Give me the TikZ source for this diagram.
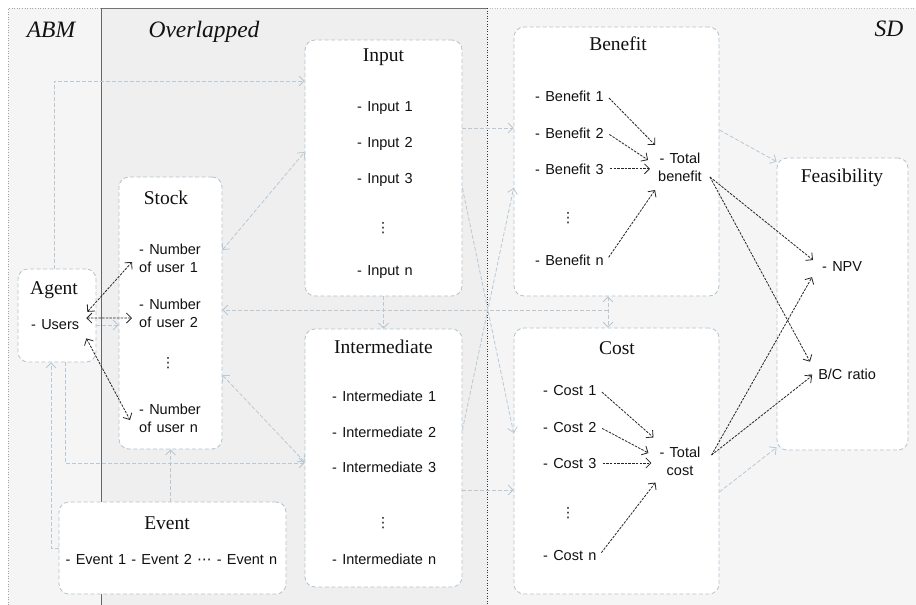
\documentclass[tikz,border=0pt]{standalone}
\usepackage{fontspec}
\setmainfont{Liberation Serif}
\newfontfamily\itemf{Liberation Sans}[WordSpace=1.3]
\newfontfamily\symf{DejaVu Sans}
\usetikzlibrary{arrows.meta,calc}
\definecolor{abmbg}{HTML}{F5F5F5}
\definecolor{ovbg}{HTML}{EFEFEF}
\definecolor{sdbg}{HTML}{F5F5F5}
\definecolor{boxline}{HTML}{B4C3CE}
\definecolor{litec}{HTML}{B9C8D3}
\definecolor{txt}{HTML}{111111}
\begin{document}
\begin{tikzpicture}[x=1pt,y=-1pt,
 box/.style={draw=boxline, line width=0.8pt, dash pattern=on 4pt off 2.5pt, fill=white, rounded corners=10pt, inner sep=0pt},
 ttl/.style={font=\fontsize{19.5}{22}\selectfont, text=txt, inner sep=1pt, anchor=base},
 panel/.style={font=\fontsize{23.5}{26}\selectfont\itshape, text=txt, inner sep=1pt, anchor=base},
 item/.style={font=\itemf\fontsize{14.5}{18}\selectfont, text=txt, inner sep=3pt},
 vd/.style={font=\symf\fontsize{14}{16}\selectfont, text=txt, inner sep=1pt},
 litearr/.style={draw=litec, line width=0.8pt, dash pattern=on 4pt off 2pt, -{Straight Barb[length=5pt,width=10pt]}},
 litebi/.style={litearr, {Straight Barb[length=5pt,width=10pt]}-{Straight Barb[length=5pt,width=10pt]}},
 darr/.style={draw=black!85, line width=0.8pt, dash pattern=on 2.5pt off 1.2pt, -{Straight Barb[length=5pt,width=10pt]}},
 dbi/.style={darr, {Straight Barb[length=5pt,width=10pt]}-{Straight Barb[length=5pt,width=10pt]}}
]
\useasboundingbox (0,0) rectangle (916,605);
% panels
\fill[abmbg] (8,8) rectangle (101,605);
\fill[ovbg] (101,8) rectangle (487,605);
\fill[sdbg] (487,8) rectangle (916,605);
\draw[gray!70, dotted, line width=0.6pt] (8,605) -- (8,8) -- (101,8);
\draw[black!55, line width=0.6pt] (101,8) -- (487,8);
\draw[gray!50, dotted, line width=0.6pt] (487,8) -- (916,8);
\draw[black!60, line width=0.5pt] (101,8) -- (101,605);
\draw[black!80, dotted, line width=0.6pt] (487,8) -- (487,605);
\node[panel] (labA) at (51,37) {ABM};
\node[panel] (labO) at (204,37) {Overlapped};
\node[panel] (labS) at (889,36) {SD};
% boxes
\node[box,minimum width=78pt,minimum height=93pt] (agent) at (57,315.5) {};
\node[box,minimum width=103pt,minimum height=272pt] (stock) at (170.5,313) {};
\node[box,minimum width=227pt,minimum height=92pt] (event) at (172.5,548) {};
\node[box,minimum width=157pt,minimum height=256pt] (input) at (383.5,168) {};
\node[box,minimum width=157pt,minimum height=258pt] (inter) at (383.5,458) {};
\node[box,minimum width=205pt,minimum height=269pt] (benefit) at (616.5,161.5) {};
\node[box,minimum width=205pt,minimum height=266pt] (cost) at (616.5,461) {};
\node[box,minimum width=131pt,minimum height=292pt] (feas) at (842.5,304) {};
% titles
\node[ttl] (agT) at (54,294) {Agent};
\node[ttl] (stT) at (166,204.5) {Stock};
\node[ttl] (evT) at (167,529.5) {Event};
\node[ttl] (inT) at (383.5,61) {Input};
\node[ttl] (imT) at (383.5,353.5) {Intermediate};
\node[ttl] (beT) at (618,50.5) {Benefit};
\node[ttl] (coT) at (617,354.5) {Cost};
\node[ttl] (feT) at (842,182.5) {Feasibility};
% agent / stock items
\node[item,anchor=base west] (agU) at (28,329) {- Users};
\node[item,anchor=west,align=left] (su1) at (136,258) {- Number\\of user 1};
\node[item,anchor=west,align=left] (su2) at (136,313) {- Number\\of user 2};
\node[vd] (sdots) at (168,363) {⋮};
\node[item,anchor=west,align=left] (sun) at (136,418) {- Number\\of user n};
% event items
\node[item,anchor=base] (evI) at (171.5,564) {- Event 1 - Event 2 {\symf ⋯} - Event n};
% input items
\node[item,anchor=base west] (in1) at (354,111) {- Input 1};
\node[item,anchor=base west] (in2) at (354,147) {- Input 2};
\node[item,anchor=base west] (in3) at (354,183) {- Input 3};
\node[vd] (indots) at (383,228) {⋮};
\node[item,anchor=base west] (inn) at (354,275) {- Input n};
% intermediate items
\node[item,anchor=base west] (im1) at (329,401) {- Intermediate 1};
\node[item,anchor=base west] (im2) at (329,437) {- Intermediate 2};
\node[item,anchor=base west] (im3) at (329,472) {- Intermediate 3};
\node[vd] (imdots) at (383,523) {⋮};
\node[item,anchor=base west] (imn) at (329,564) {- Intermediate n};
% benefit items
\node[item,anchor=base west] (b1) at (532,101) {- Benefit 1};
\node[item,anchor=base west] (b2) at (532,138) {- Benefit 2};
\node[item,anchor=base west] (b3) at (532,174) {- Benefit 3};
\node[vd] (bdots) at (568,218) {⋮};
\node[item,anchor=base west] (bn) at (532,265) {- Benefit n};
\node[item,align=center] (btot) at (680,167.5) {- Total\\benefit};
% cost items
\node[item,anchor=base west] (c1) at (540,395) {- Cost 1};
\node[item,anchor=base west] (c2) at (540,432) {- Cost 2};
\node[item,anchor=base west] (c3) at (540,468) {- Cost 3};
\node[vd] (cdots) at (568,513) {⋮};
\node[item,anchor=base west] (cn) at (540,560) {- Cost n};
\node[item,align=center] (ctot) at (680,461) {- Total\\cost};
% feasibility items
\node[item,anchor=base west] (npv) at (819,271) {- NPV};
\node[item,anchor=base west] (bc) at (805,379) {- B/C ratio};
% light connectors
\draw[litearr] ([xshift=-3pt]agent.north) |- ([yshift=87pt]input.west);
\draw[litebi] ([yshift=63pt]stock.east) -- ([yshift=16pt]input.west);
\draw[litebi] ([yshift=-62pt]stock.east) -- ([yshift=-4pt]inter.west);
\draw[litearr] ([yshift=-9.5pt]agent.east) -- ([yshift=-12pt]stock.west);
\draw[litearr] ([xshift=8pt]agent.south) |- ([yshift=-5pt]inter.west);
\draw[litearr] (event.west) -| ([xshift=-6pt]agent.south);
\draw[litearr] (event.north -| stock.south) -- (stock.south);
\draw[litearr] (input.south) -- (inter.north);
\coordinate (hub) at (608,310);
\draw[litebi] ([xshift=-8.5pt]benefit.south) -- ([xshift=-8.5pt]cost.north);
\draw[litearr] (hub) -- ([yshift=3pt]stock.east);
\draw[litearr] ([yshift=40pt]input.east) -- ([yshift=33.5pt]benefit.west);
\draw[litearr] ([yshift=-32pt]inter.east) -- ([yshift=-29pt]cost.west);
\draw[litearr] ([yshift=-20pt]input.east) -- ([yshift=28pt]cost.west);
\draw[litearr] ([yshift=28pt]inter.east) -- ([yshift=-26.5pt]benefit.west);
\draw[litearr] ([yshift=31.5pt]benefit.east) -- ([yshift=-4pt]feas.north west);
\draw[litearr] ([yshift=-31pt]cost.east) -- ([yshift=3pt]feas.south west);
% dark connectors
\draw[dbi] ([xshift=5pt,yshift=4pt]agU.north east) -- ([xshift=-4pt,yshift=-4pt]su1.west);
\draw[dbi] ([xshift=4pt,yshift=6pt]agU.east) -- ([xshift=-4pt,yshift=-5pt]su2.west);
\draw[dbi] ([xshift=4pt,yshift=-6pt]agU.south east) -- ([xshift=-6pt,yshift=-2pt]sun.west);
\draw[darr, shorten <=3pt] (b1.east) -- ([yshift=5pt]btot.north west);
\draw[darr, shorten <=3pt] (b2.east) -- ([xshift=-7pt,yshift=7.5pt]btot.west);
\draw[darr, shorten <=3pt, shorten >=5pt] (b3.east) -- (b3.east -| btot.west);
\draw[darr, shorten <=3pt] (bn.east) -- ([yshift=-5pt]btot.south west);
\draw[darr, shorten <=3pt] (c1.east) -- ([xshift=-3pt,yshift=6pt]ctot.north west);
\draw[darr, shorten <=3pt] (c2.east) -- ([xshift=-8pt,yshift=8pt]ctot.west);
\draw[darr, shorten <=3pt, shorten >=5pt] (c3.east) -- (c3.east -| ctot.west);
\draw[darr, shorten <=3pt] (cn.east) -- ([xshift=-1pt,yshift=-4pt]ctot.south west);
\draw[darr] ([xshift=5pt,yshift=-9.5pt]btot.east) -- ([xshift=-6pt,yshift=6pt]npv.west);
\draw[darr] ([xshift=5pt,yshift=-9.5pt]btot.east) -- ([xshift=5pt,yshift=3.6pt]bc.north west);
\draw[darr] ([xshift=8pt,yshift=6pt]ctot.east) -- ([xshift=-7pt,yshift=-3pt]npv.south west);
\draw[darr] ([xshift=8pt,yshift=6pt]ctot.east) -- ([xshift=7pt,yshift=-2pt]bc.west);
\end{tikzpicture}
\end{document}
